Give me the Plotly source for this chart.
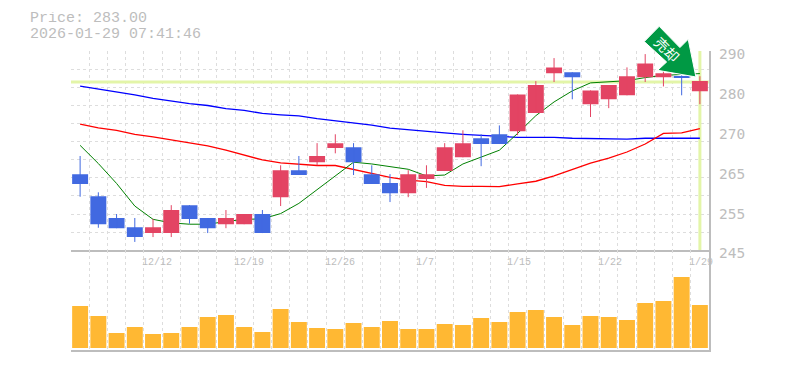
import plotly.graph_objects as go

idx = list(range(35))
opens = [262.2,257.2,252.3,250.2,248.9,248.9,255.2,252.3,250.9,250.9,253.2,257.0,263.1,264.9,268.1,268.3,262.2,260.2,257.9,261.1,262.9,266.0,270.3,271.2,271.9,276.0,285.0,285.2,278.0,279.1,280.0,284.1,284.1,284.3,280.9]
highs = [266.3,258.1,253.2,252.3,252.1,255.2,255.2,252.3,254.1,253.2,254.1,264.2,266.3,269.2,271.2,269.2,264.2,262.2,263.1,264.2,269.2,272.1,271.2,273.2,280.2,283.2,288.4,285.2,281.1,282.3,286.3,289.3,285.5,284.5,284.3]
lows = [257.1,250.1,250.0,246.9,248.0,248.0,251.0,248.9,250.0,250.9,248.9,255.0,262.0,264.2,266.9,262.0,260.0,255.9,257.0,259.1,262.9,266.0,264.0,269.0,271.0,276.0,283.0,279.1,275.1,277.1,280.0,283.0,282.0,280.0,278.0]
closes = [260.0,250.9,250.0,248.0,250.2,254.1,252.1,250.0,252.3,253.2,248.9,263.1,262.0,266.3,269.2,264.9,260.0,257.9,262.2,262.2,268.3,269.2,269.0,269.0,280.2,282.3,286.3,284.1,281.1,282.3,284.3,287.2,285.0,284.1,283.2]
ma_short = [268.7,264.6,260.1,255.0,252.0,251.2,250.9,250.9,251.5,252.0,252.1,253.3,255.6,258.7,262.0,264.9,264.5,263.9,263.3,261.8,262.0,264.5,266.1,267.6,271.4,275.4,278.5,281.0,282.8,283.1,283.3,284.0,284.5,284.7,284.9]
ma_mid = [273.5,272.65,272.1,271.2,270.6,269.9,269.3,268.6,267.6,266.5,265.4,264.75,264.4,264.15,264.15,263.25,262.5,261.45,260.85,260.5,259.65,259.45,259.45,259.4,260.0,260.6,261.8,263.3,264.7,265.8,267.2,269.0,271.4,271.5,272.5]
ma_long = [282.05,281.45,280.8,280.1,279.3,278.7,278.1,277.7,277.0,276.6,275.9,275.6,275.35,274.75,274.3,273.8,273.25,272.6,272.2,271.8,271.5,271.2,271.0,270.7,270.5,270.5,270.5,270.3,270.2,270.1,270.1,270.3,270.3,270.3,270.3]
volume = [42,32,15,21,14,15,21,31,33,21,16,39,26,20,19,25,21,27,19,19,24,23,30,26,36,38,31,23,32,31,28,45,47,71,43]
date_labels = ["12/12","12/19","12/26","1/7","1/15","1/22","1/29"]
date_pos = [4,9,14,19,24,29,34]
price_ticks = [245,254,263,272,281,290]
price_labels = ["245","255","265","270","280","290"]
last_price = 283.0
title_lines = ["Price: 283.00","2026-01-29 07:41:46"]

MONO = "DejaVu Sans Mono"
SLAB = "Liberation Mono"
GRAY = "#bdbdbd"
GRID = "#dddddd"
UP = "#e34463"
DOWN = "#4169e1"

fig = go.Figure()
band = dict(color="#e3f5a8", width=3)
fig.add_trace(go.Scatter(x=[-0.5,34.5],y=[last_price,last_price],mode="lines",line=band,hoverinfo="skip",showlegend=False))
fig.add_trace(go.Scatter(x=[34,34],y=[245,290],mode="lines",line=band,hoverinfo="skip",showlegend=False))
for ys,c,w in ((ma_long,"#0000ff",1.3),(ma_mid,"#ff0000",1.3),(ma_short,"#008000",1)):
    fig.add_trace(go.Scatter(x=idx,y=ys,mode="lines",line=dict(color=c,width=w),hoverinfo="skip",showlegend=False))

# candle bodies and wicks, one bar trace per direction
for color,is_up in ((UP,True),(DOWN,False)):
    sel = [i for i in idx if (closes[i]>=opens[i])==is_up]
    tops = [max(opens[i],closes[i]) for i in sel]
    bots = [min(opens[i],closes[i]) for i in sel]
    fig.add_trace(go.Bar(x=sel,y=[t-b for t,b in zip(tops,bots)],base=bots,yaxis="y3",width=0.875,
        marker=dict(color=color,line=dict(width=0)),
        error_y=dict(type="data",symmetric=False,array=[highs[i]-t for i,t in zip(sel,tops)],arrayminus=[t-lows[i] for i,t in zip(sel,tops)],
                     color=color,thickness=1,width=0),
        showlegend=False,hoverinfo="skip"))
fig.add_trace(go.Bar(x=idx,y=volume,xaxis="x2",yaxis="y2",marker=dict(color="#ffb833",line=dict(width=0)),width=0.875,showlegend=False,hoverinfo="skip"))

xbase = dict(range=[-0.5,34.5],tickmode="linear",tick0=-0.5,dtick=1,showgrid=True,gridcolor=GRID,griddash="3px,3px",gridwidth=1,
             showticklabels=False,ticks="",showline=True,linecolor=GRAY,linewidth=1.5,zeroline=False)
fig.update_layout(
    width=785,height=370,margin=dict(l=70.9,r=75.9,t=50.7,b=20,autoexpand=False),
    paper_bgcolor="white",plot_bgcolor="white",showlegend=False,barmode="overlay",
    xaxis=dict(xbase,anchor="y"),
    xaxis2=dict(xbase,anchor="y2"),
    yaxis=dict(domain=[0.3333,1],range=[245,290],tickmode="linear",tick0=245,dtick=45/11,showgrid=True,gridcolor=GRID,griddash="3px,3px",
               showticklabels=False,ticks="",side="right",showline=True,linecolor=GRAY,linewidth=1.5,zeroline=False),
    yaxis3=dict(overlaying="y",range=[245,290],tickmode="array",tickvals=price_ticks,ticktext=price_labels,side="right",
                showgrid=False,zeroline=False,ticks="",ticklabelshift=3,ticklabelstandoff=9,
                tickfont=dict(family=MONO,size=14.5,color=GRAY)),
    yaxis2=dict(domain=[0,0.3333],range=[-2,97.7],showgrid=False,showticklabels=False,ticks="",side="right",
                showline=True,linecolor=GRAY,linewidth=1.5,zeroline=False),
)
ann = []
for t,yo in zip(title_lines,(33,17)):
    ann.append(dict(text=t,xref="paper",yref="paper",x=0,y=1,xshift=-43.4,yshift=yo,xanchor="left",yanchor="middle",showarrow=False,
                    height=13,font=dict(family=SLAB,size=15,color=GRAY)))
for t,p in zip(date_labels,date_pos):
    ann.append(dict(text=t,xref="x",yref="paper",x=p-0.5,y=0.3333,xshift=-3.5,yshift=-12,xanchor="left",yanchor="middle",showarrow=False,
                    font=dict(family=SLAB,size=10,color=GRAY)))
ann.append(dict(text="売却",xref="paper",yref="paper",x=(667-70.9)/638.2,y=(350-49)/299.3,xanchor="center",yanchor="middle",showarrow=False,
                textangle=45,font=dict(family="Noto Sans CJK JP",size=14,color="white")))
fig.update_layout(annotations=ann)
def px(x,y): return f"{(x-70.9)/638.2:.4f},{(350-y)/299.3:.4f}"
pts=[(659.3,26),(644.3,41.3),(666.7,61.7),(657.7,70),(696,76.7),(688.3,39),(680,47.3)]
path="M"+" L".join(px(*p) for p in pts)+" Z"
fig.add_shape(type="path",path=path,xref="paper",yref="paper",fillcolor="#009944",line=dict(color="white",width=1),layer="above")
fig.write_html("out.html",config=dict(displayModeBar=False),post_script="document.body.style.margin='0';document.body.style.overflow='hidden';")
